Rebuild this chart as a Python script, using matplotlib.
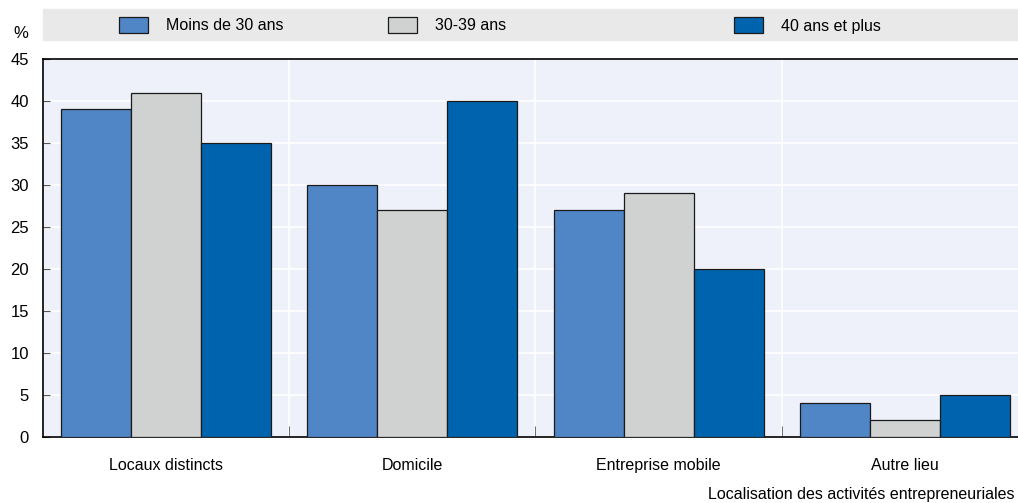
import numpy as np
import matplotlib.pyplot as plt
from matplotlib.patches import Rectangle

plt.rcParams['font.family'] = ['Liberation Sans', 'DejaVu Sans']

categories = ['Locaux distincts', 'Domicile', 'Entreprise mobile', 'Autre lieu']
series_names = ['Moins de 30 ans', '30-39 ans', '40 ans et plus']
moins30 = [39, 30, 27, 4]
de30a39 = [41, 27, 29, 2]
plus40 = [35, 40, 20, 5]
colors = ['#5085c6', '#d0d2d1', '#0063ad']

fig = plt.figure(figsize=(10.18, 5.03), dpi=100)
# plot area runs a little past the right edge, as in the reference
ax = fig.add_axes([43 / 1018, 1 - 437 / 503, 985 / 1018, 378 / 503])
ax.set_facecolor('#eef0fa')

x = np.arange(len(categories))
w = 0.284
for i, (vals, c) in enumerate(zip([moins30, de30a39, plus40], colors)):
    ax.bar(x + (i - 1) * w, vals, width=w, color=c, edgecolor='#1a1a1a',
           linewidth=0.9, zorder=3, label=series_names[i])

ax.set_xlim(-0.5, len(categories) - 0.5)
ax.set_ylim(0, 45)
ax.set_yticks(range(0, 46, 5))
ax.set_xticks(x)
ax.set_xticklabels(categories, fontsize=11.5)
ax.tick_params(axis='x', length=0, pad=15)
ax.tick_params(axis='y', direction='in', length=5, color='#555555', labelsize=12, pad=10)
ax.set_xticks(x[:-1] + 0.5, minor=True)
ax.tick_params(axis='x', which='minor', direction='in', length=8, color='#555555')

ax.grid(axis='y', color='white', linewidth=1.2, zorder=0)
for b in x[:-1] + 0.5:
    ax.axvline(b, color='white', linewidth=1.2, zorder=0)

for s in ['left', 'bottom', 'top']:
    ax.spines[s].set_color('black')
    ax.spines[s].set_linewidth(1.2)
ax.spines['right'].set_visible(False)

# legend strip
fig.patches.append(Rectangle((43 / 1018, 1 - 40 / 503), 975 / 1018, 31 / 503,
                             transform=fig.transFigure, color='#e9e9e9', zorder=0))
leg_patch_x = [119, 388, 734]
for px, name, c in zip(leg_patch_x, series_names, colors):
    fig.patches.append(Rectangle((px / 1018, 1 - 33 / 503), 29 / 1018, 16 / 503,
                                 transform=fig.transFigure, facecolor=c,
                                 edgecolor='#1a1a1a', linewidth=0.9))
    fig.text((px + 47) / 1018, 1 - 26 / 503, name, fontsize=11.5, va='center', ha='left')

fig.text(13 / 1018, 1 - 33 / 503, '%', fontsize=12, va='center', ha='left')
fig.text(1015 / 1018, 1 - 494 / 503, 'Localisation des activités entrepreneuriales',
         fontsize=11.5, va='center', ha='right')

fig.savefig('out.png', dpi=100)
